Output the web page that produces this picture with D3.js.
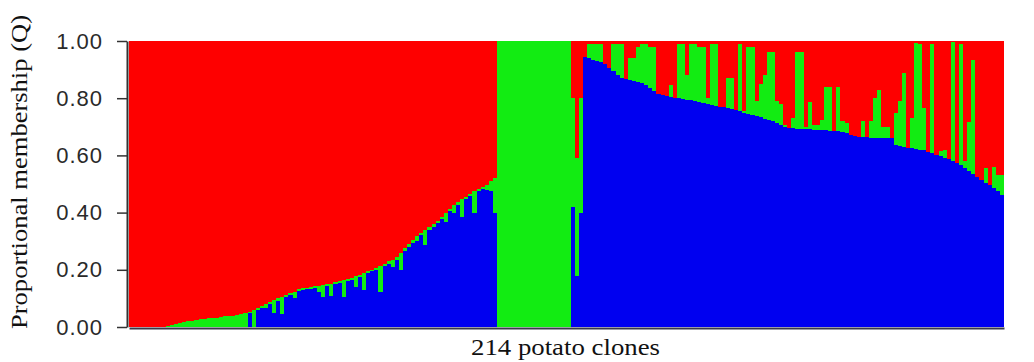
<!DOCTYPE html>
<html><head><meta charset="utf-8">
<script src="https://cdn.jsdelivr.net/npm/d3@7"></script>
<style>body{margin:0;background:#fff} svg{display:block}</style>
</head><body>
<svg id="chart" width="1034" height="362"></svg>
<script>
// 214 potato clones, STRUCTURE membership coefficients (Q) for 3 clusters
const cloneIds = Array.from({length: 214}, (_, i) => i + 1);
const clusterKeys = ["blue", "green", "red"];
const yTickValues = [0, 0.2, 0.4, 0.6, 0.8, 1.0];
const xAxisTitle = "214 potato clones";
const yAxisTitle = "Proportional membership (Q)";

const blueQ = [
  0,0,0,0,0,0,0,0,0,0,
  0,0,0,0,0,0,0,0,0,0,
  0,0,0,0,0,0,0,0,0,.05,
  0,.058,.066,.066,.08,.05,.092,.045,.104,.112,
  .10,.126,.128,.132,.134,.136,.123,.106,.142,.11,
  .15,.155,.106,.162,.166,.14,.176,.13,.19,.195,
  .20,.123,.215,.222,.21,.235,.20,.265,.28,.295,
  .30,.32,.287,.34,.35,.362,.376,.368,.405,.40,
  .428,.385,.448,.458,.40,.476,.482,.48,.475,.40,
  0,0,0,0,0,0,0,0,0,0,
  0,0,0,0,0,0,0,0,.42,.18,
  .40,.945,.94,.935,.93,.925,.92,.905,.895,.88,
  .872,.868,.865,.86,.857,.852,.845,.835,.826,.815,
  .81,.807,.805,.802,.80,.798,.795,.792,.79,.786,
  .782,.78,.777,.774,.77,.768,.765,.762,.759,.755,
  .75,.746,.741,.737,.733,.728,.725,.72,.712,.705,
  .70,.697,.695,.694,.693,.692,.691,.69,.69,.689,
  .688,.687,.686,.684,.682,.678,.672,.667,.665,.664,
  .663,.662,.662,.661,.661,.66,.66,.635,.632,.63,
  .627,.625,.622,.62,.618,.613,.608,.603,.598,.592,
  .586,.58,.572,.565,.556,.546,.535,.525,.513,.503,
  .495,.485,.475,.462
];

const greenQ = [
  0,0,0,0,0,0,0,0,0,.005,
  .008,.012,.015,.018,.02,.022,.025,.027,.028,.03,
  .031,.033,.035,.037,.038,.04,.043,.046,.05,.004,
  .06,.008,.008,.014,.007,.044,.008,.061,.008,.006,
  .022,.006,.007,.006,.006,.006,.021,.04,.007,.042,
  .006,.005,.058,.006,.006,.037,.006,.058,.005,.005,
  .007,.091,.007,.008,.025,.01,.06,.01,.01,.01,
  .018,.01,.053,.01,.01,.01,.01,.032,.008,.025,
  .008,.061,.008,.008,.076,.008,.008,.017,.035,.12,
  1,1,1,1,1,1,1,1,1,1,
  1,1,1,1,1,1,1,1,.38,.41,
  .40,0,.05,.055,.06,.065,0,0,.095,.11,
  .118,0,.075,.08,.123,.138,.145,.145,.154,0,
  0,0,.041,0,.19,.192,.085,.198,.20,.194,
  .198,.02,.213,.216,0,0,.105,.108,0,.235,
  .005,.234,.239,.053,.117,.152,.235,.24,.078,.075,
  .005,0,.035,.269,.27,.008,.097,.016,.016,.035,
  .152,.153,0,.156,.038,.035,0,0,0,.056,
  0,.058,.138,.168,.039,.04,0,.113,.158,.258,
  0,.105,.371,.37,.148,0,.382,0,.017,.028,
  0,.415,0,.425,.024,.171,.398,0,0,.053,
  0,.075,.055,.068
];

const clusterColors = { blue: "#0000f0", green: "#12ec12", red: "#fe0000" };

const rows = cloneIds.map((id, i) => ({
  id,
  blue: blueQ[i],
  green: greenQ[i],
  red: Math.max(0, 1 - blueQ[i] - greenQ[i])
}));

const svg = d3.select("#chart");
const margin = { left: 129, right: 30, top: 41, bottom: 35 };
const W = 1034, H = 362;

const x = d3.scaleBand().domain(cloneIds).range([margin.left, W - margin.right]).padding(0);
const y = d3.scaleLinear().domain([0, 1]).range([H - margin.bottom, margin.top]);

// pixel-snapped column edges derived from the band scale (avoids seams)
const edge = k => Math.round(x.range()[0] + k * x.step() + 1e-6);
const colIndex = id => x.domain().indexOf(id);

const series = d3.stack().keys(clusterKeys)(rows);

svg.append("g")
  .selectAll("g")
  .data(series)
  .join("g")
  .attr("fill", s => clusterColors[s.key])
  .selectAll("rect")
  .data(s => s)
  .join("rect")
  .attr("shape-rendering", "crispEdges")
  .attr("x", d => edge(colIndex(d.data.id)))
  .attr("width", d => edge(colIndex(d.data.id) + 1) - edge(colIndex(d.data.id)))
  .attr("y", d => y(d[1]))
  .attr("height", d => Math.max(0, y(d[0]) - y(d[1])));

// y axis
const yAxis = d3.axisLeft(y)
  .tickValues(yTickValues)
  .tickFormat(d3.format(".2f"))
  .tickSize(10)
  .tickSizeOuter(0)
  .tickPadding(14);

const gy = svg.append("g")
  .attr("transform", `translate(${margin.left - 2},0)`)
  .call(yAxis);
gy.select(".domain").attr("stroke", "#333").attr("stroke-width", 2);
gy.selectAll(".tick line").attr("stroke", "#333").attr("stroke-width", 1.5);
gy.selectAll(".tick text")
  .attr("fill", "#2a2a2a")
  .style("font-family", "'Liberation Sans', Arial, sans-serif")
  .style("font-size", "22px")
  .style("letter-spacing", "1px");

// x axis (baseline only)
const xAxis = d3.axisBottom(x).tickValues([]).tickSizeOuter(0);
const gx = svg.append("g")
  .attr("transform", `translate(0,${H - margin.bottom + 1})`)
  .call(xAxis);
gx.select(".domain").attr("stroke", "#3a3a4a").attr("stroke-width", 2);

// titles
svg.append("text")
  .attr("x", (margin.left + W - margin.right) / 2 - 1)
  .attr("y", 355)
  .attr("text-anchor", "middle")
  .attr("textLength", 189)
  .attr("lengthAdjust", "spacingAndGlyphs")
  .style("font-family", "'Liberation Serif', 'Times New Roman', serif")
  .style("font-size", "24px")
  .attr("fill", "#111")
  .text(xAxisTitle);

svg.append("text")
  .attr("transform", "translate(27,172) rotate(-90)")
  .attr("text-anchor", "middle")
  .attr("textLength", 314)
  .attr("lengthAdjust", "spacingAndGlyphs")
  .style("font-family", "'Liberation Serif', 'Times New Roman', serif")
  .style("font-size", "24px")
  .attr("fill", "#111")
  .text(yAxisTitle);
</script>
</body></html>
